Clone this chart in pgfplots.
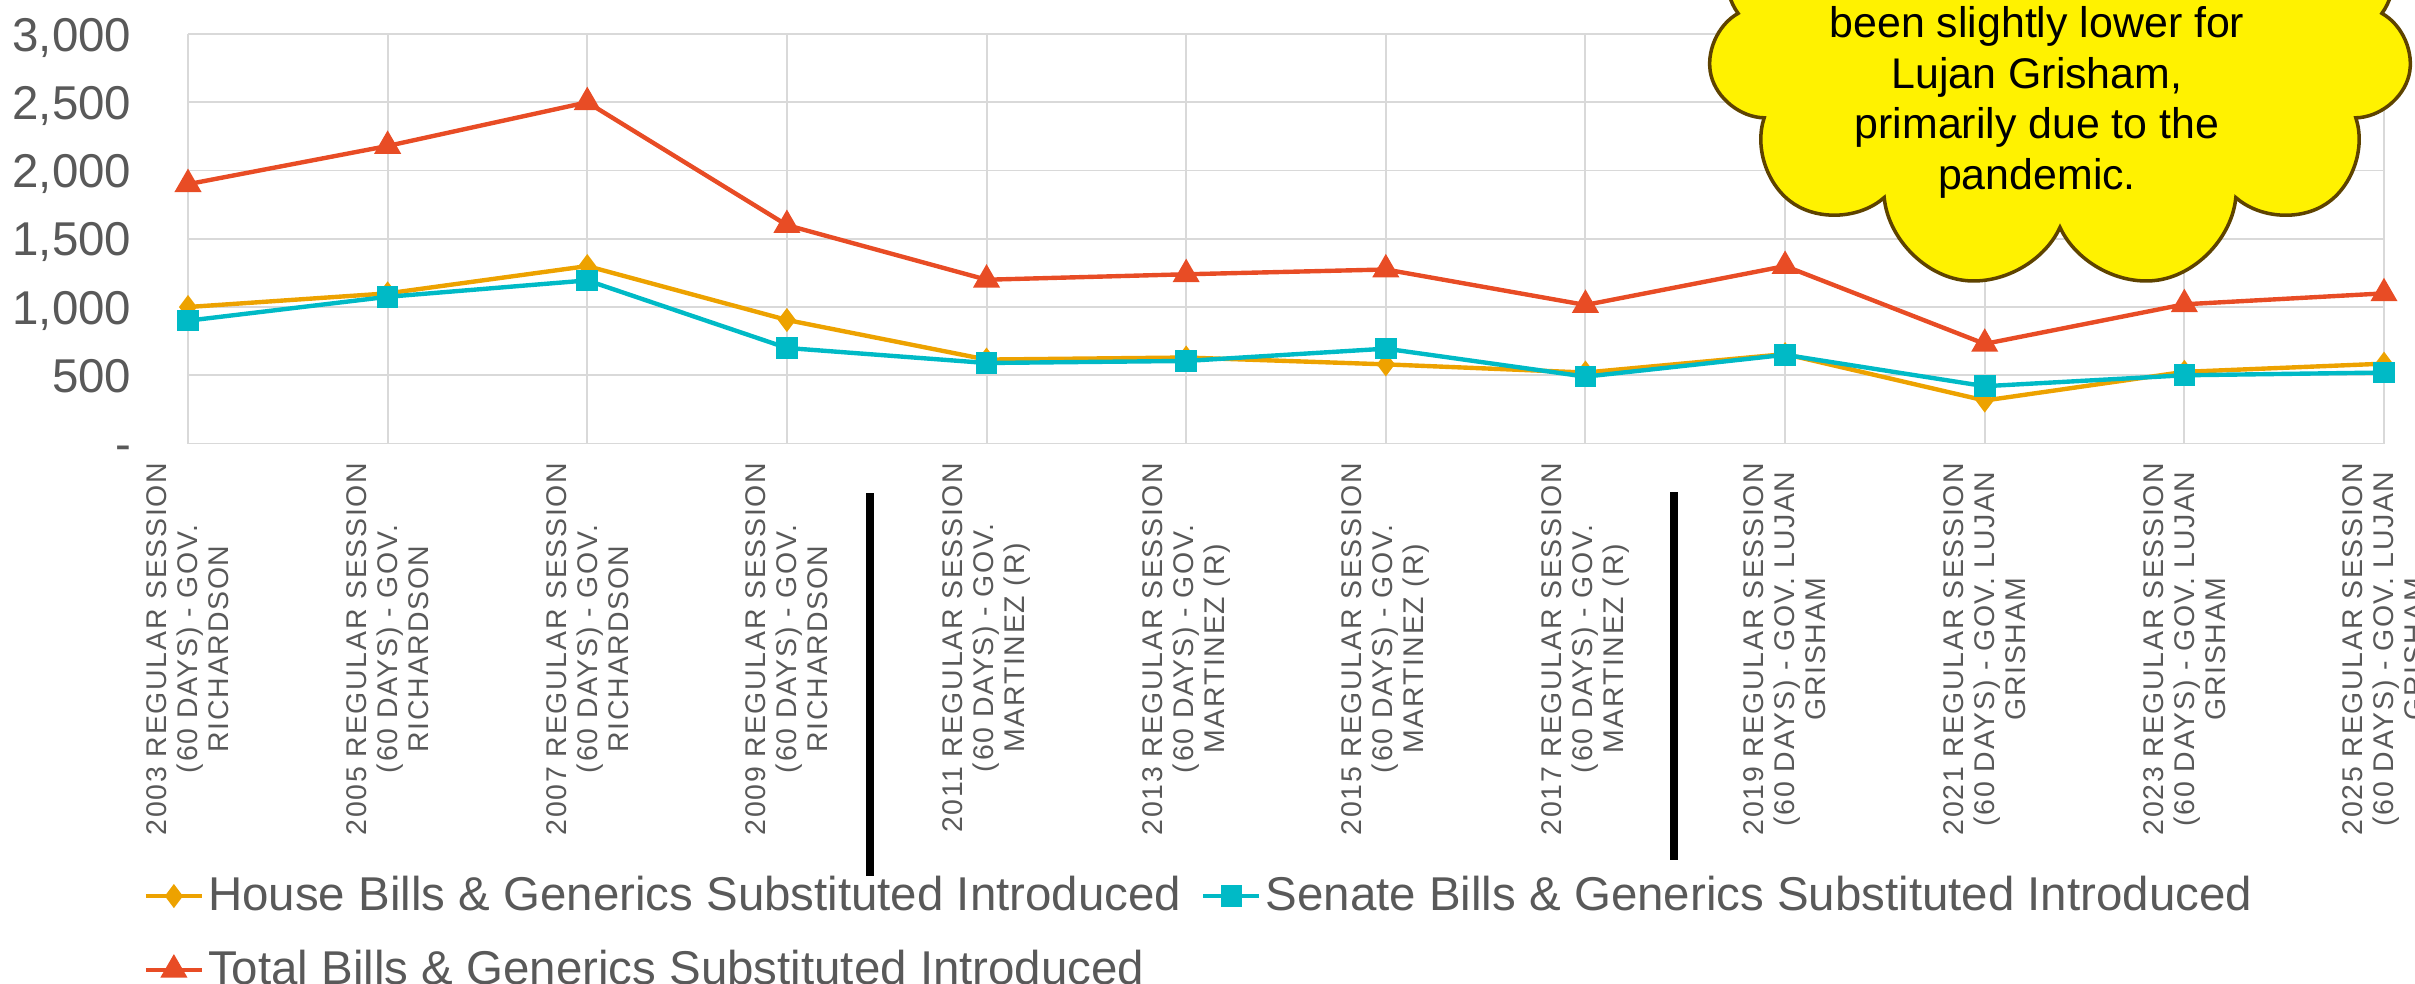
\documentclass[border=0pt]{standalone}
\usepackage{fontspec}
\setmainfont{Liberation Sans}
\newfontfamily\tickfont[LetterSpace=6]{Liberation Sans}
\usepackage{pgfplots}
\pgfplotsset{compat=1.18}
\usetikzlibrary{shapes.symbols}
\definecolor{houseC}{HTML}{EDA200}
\definecolor{senateC}{HTML}{00BAC6}
\definecolor{totalC}{HTML}{E84C25}
\definecolor{gridC}{HTML}{D9D9D9}
\definecolor{tickC}{HTML}{595959}
\definecolor{cloudB}{HTML}{5E4300}
\pgfplotstableread{
x house senate total
0 1000 900 1900
1 1100 1075 2180
2 1300 1195 2500
3 905 700 1600
4 615 590 1200
5 630 605 1240
6 580 695 1275
7 520 490 1015
8 655 650 1300
9 315 420 730
10 525 500 1020
11 585 520 1100
}\datatable
\begin{document}
\begin{tikzpicture}
\begin{axis}[
  at={(18.8mm,-44.35mm)}, anchor=south west,
  width=219.6mm, height=40.95mm, scale only axis,
  xmin=0, xmax=11, ymin=0, ymax=3000,
  xtick={0,...,11}, ytick={0,500,...,3000},
  yticklabels={{-\hspace{2.6mm}},500,{1,000},{1,500},{2,000},{2,500},{3,000}},
  xticklabels={
    {2003 REGULAR SESSION\\(60 DAYS) - GOV.\\RICHARDSON},
    {2005 REGULAR SESSION\\(60 DAYS) - GOV.\\RICHARDSON},
    {2007 REGULAR SESSION\\(60 DAYS) - GOV.\\RICHARDSON},
    {2009 REGULAR SESSION\\(60 DAYS) - GOV.\\RICHARDSON},
    {2011 REGULAR SESSION\\(60 DAYS) - GOV.\\MARTINEZ (R)},
    {2013 REGULAR SESSION\\(60 DAYS) - GOV.\\MARTINEZ (R)},
    {2015 REGULAR SESSION\\(60 DAYS) - GOV.\\MARTINEZ (R)},
    {2017 REGULAR SESSION\\(60 DAYS) - GOV.\\MARTINEZ (R)},
    {2019 REGULAR SESSION\\(60 DAYS) - GOV. LUJAN\\GRISHAM},
    {2021 REGULAR SESSION\\(60 DAYS) - GOV. LUJAN\\GRISHAM},
    {2023 REGULAR SESSION\\(60 DAYS) - GOV. LUJAN\\GRISHAM},
    {2025 REGULAR SESSION\\(60 DAYS) - GOV. LUJAN\\GRISHAM}},
  xticklabel style={rotate=90, anchor=east, align=center, inner sep=0pt,
    font=\tickfont\fontsize{8.1}{8.8}\selectfont, text=tickC},
  xticklabel shift=1.85mm,
  yticklabel style={anchor=base east, inner sep=0pt, xshift=-5.6mm, yshift=-1.7mm,
    font=\fontsize{13.5}{15}\selectfont, text=tickC},
  grid=major,
  major grid style={draw=gridC, line width=0.55pt},
  axis line style={draw=none},
  major tick length=0pt,
  clip=false,
  legend columns=2,
  legend cell align=left,
  legend style={at={(-0.0205,-1.055)}, anchor=north west, draw=none, fill=none,
    inner sep=0pt, font=\fontsize{13.5}{15}\selectfont, text=tickC,
    column sep=0.4mm, row sep=3.4mm, nodes={inner sep=0pt}},
  /tikz/every even column/.append style={column sep=2mm},
  legend image code/.code={\draw[mark repeat=2,mark phase=2] plot coordinates {(0mm,0mm) (2.8mm,0mm) (5.6mm,0mm)};},
]
\addplot[color=houseC, line width=1.25pt, mark=diamond*, mark size=2.4pt, mark options={solid}] table[x=x,y=house]{\datatable};
\addlegendentry{House Bills \& Generics Substituted Introduced}
\addplot[color=senateC, line width=1.25pt, mark=square*, mark size=2.45pt, mark options={solid}] table[x=x,y=senate]{\datatable};
\addlegendentry{Senate Bills \& Generics Substituted Introduced}
\addplot[color=totalC, line width=1.25pt, mark=triangle*, mark size=3.2pt, mark options={solid}] table[x=x,y=total]{\datatable};
\addlegendentry{Total Bills \& Generics Substituted Introduced}
\end{axis}
\draw[line width=0.75mm] (87.0mm,-49.3mm) -- (87.0mm,-87.6mm);
\draw[line width=0.75mm] (167.4mm,-49.2mm) -- (167.4mm,-86.0mm);
\node[cloud, cloud puffs=11, cloud ignores aspect, minimum width=70.5mm, minimum height=50mm,
  fill=yellow, draw=cloudB, line width=1pt, inner sep=0pt] at (206.0mm,-4.0mm) {};
\begin{scope}[every node/.style={anchor=base, inner sep=0pt, font=\fontsize{12.2}{14}\selectfont, text=black}]
\node at (203.7mm,-3.7mm) {been slightly lower for};
\node at (203.7mm,-8.8mm) {Lujan Grisham,};
\node at (203.7mm,-13.8mm) {primarily due to the};
\node at (203.7mm,-18.9mm) {pandemic.};
\end{scope}
\pgfresetboundingbox
\path[use as bounding box] (0,0) rectangle (241.5mm,-98.3mm);
\end{tikzpicture}
\end{document}
